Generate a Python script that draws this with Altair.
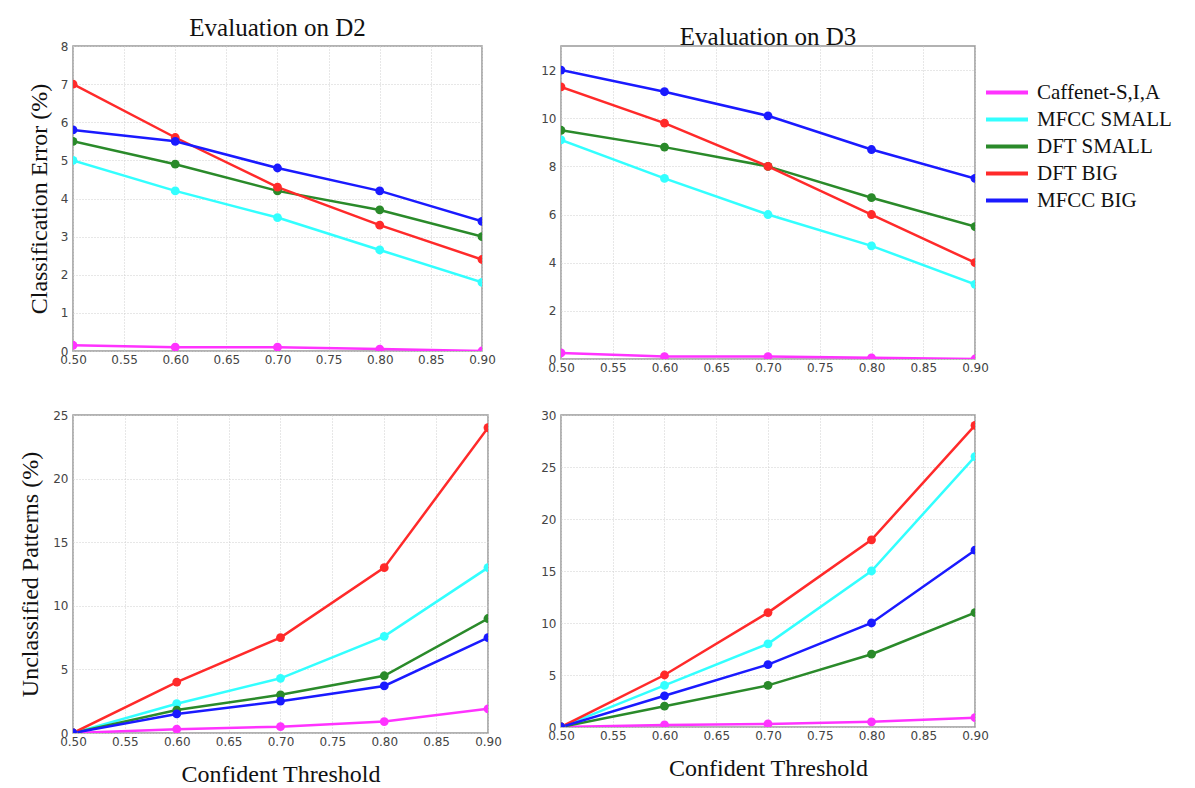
import altair as alt
import pandas as pd

thresholds = [0.50, 0.60, 0.70, 0.80, 0.90]
x_ticks = [0.50, 0.55, 0.60, 0.65, 0.70, 0.75, 0.80, 0.85, 0.90]
series_names = ["Caffenet-S,I,A", "MFCC SMALL", "DFT SMALL", "DFT BIG", "MFCC BIG"]
series_colors = ["#ff33ff", "#33ffff", "#2a8a2a", "#ff2a2a", "#1a1aff"]

# Evaluation on D2 - classification error (%)
d2_err_caffenet = [0.15, 0.10, 0.10, 0.05, 0.0]
d2_err_mfcc_small = [5.0, 4.2, 3.5, 2.65, 1.8]
d2_err_dft_small = [5.5, 4.9, 4.2, 3.7, 3.0]
d2_err_dft_big = [7.0, 5.6, 4.3, 3.3, 2.4]
d2_err_mfcc_big = [5.8, 5.5, 4.8, 4.2, 3.4]

# Evaluation on D3 - classification error (%)
d3_err_caffenet = [0.25, 0.10, 0.10, 0.05, 0.0]
d3_err_mfcc_small = [9.1, 7.5, 6.0, 4.7, 3.1]
d3_err_dft_small = [9.5, 8.8, 8.0, 6.7, 5.5]
d3_err_dft_big = [11.3, 9.8, 8.0, 6.0, 4.0]
d3_err_mfcc_big = [12.0, 11.1, 10.1, 8.7, 7.5]

# D2 - unclassified patterns (%)
d2_unc_caffenet = [0.0, 0.3, 0.5, 0.9, 1.9]
d2_unc_mfcc_small = [0.0, 2.3, 4.3, 7.6, 13.0]
d2_unc_dft_small = [0.0, 1.8, 3.0, 4.5, 9.0]
d2_unc_dft_big = [0.0, 4.0, 7.5, 13.0, 24.0]
d2_unc_mfcc_big = [0.0, 1.5, 2.5, 3.7, 7.5]

# D3 - unclassified patterns (%)
d3_unc_caffenet = [0.0, 0.2, 0.3, 0.5, 0.9]
d3_unc_mfcc_small = [0.0, 4.0, 8.0, 15.0, 26.0]
d3_unc_dft_small = [0.0, 2.0, 4.0, 7.0, 11.0]
d3_unc_dft_big = [0.0, 5.0, 11.0, 18.0, 29.0]
d3_unc_mfcc_big = [0.0, 3.0, 6.0, 10.0, 17.0]

SERIF = "Liberation Serif"
SANS = "DejaVu Sans"


def make_df(*cols):
    rows = []
    for name, vals in zip(series_names, cols):
        for t, v in zip(thresholds, vals):
            rows.append({"t": t, "v": v, "series": name})
    return pd.DataFrame(rows)


legend = alt.Legend(
    orient="none", legendX=911, legendY=34, title=None,
    symbolType="M-1,0H3", symbolStrokeWidth=4, symbolSize=441,
    labelFont=SERIF, labelFontSize=21, labelColor="#111", labelLimit=0,
    rowPadding=4, labelOffset=28,
)


def panel(df, ymax, yticks, w, h, title=None, title_offset=0, ytitle=None, xtitle=None, ytp=9):
    x_axis = alt.Axis(values=x_ticks, format=".2f", labelFlush=False, tickSize=0,
                      labelPadding=3, titlePadding=15,
                      titleFont=SERIF, titleFontSize=24, titleFontWeight="normal", titleColor="#111")
    y_axis = alt.Axis(values=yticks, format="d", labelFlush=False, tickSize=0,
                      labelPadding=5, titlePadding=ytp,
                      titleFont=SERIF, titleFontSize=24, titleFontWeight="normal", titleColor="#111")
    ch = alt.Chart(df).mark_line(
        strokeWidth=2.5, clip=True,
        point=alt.OverlayMarkDef(filled=True, size=78, clip=True, opacity=1),
    ).encode(
        x=alt.X("t:Q", scale=alt.Scale(domain=[0.5, 0.9], nice=False, zero=False),
                axis=x_axis, title=xtitle),
        y=alt.Y("v:Q", scale=alt.Scale(domain=[0, ymax], nice=False),
                axis=y_axis, title=ytitle),
        color=alt.Color("series:N", scale=alt.Scale(domain=series_names, range=series_colors),
                        sort=series_names, legend=legend),
        order=alt.Order("t:Q"),
    )
    props = {"width": w, "height": h}
    if title:
        props["title"] = alt.Title(title, font=SERIF, fontSize=25, fontWeight="normal",
                                   color="#111", offset=title_offset)
    return ch.properties(**props)


tl = panel(make_df(d2_err_caffenet, d2_err_mfcc_small, d2_err_dft_small, d2_err_dft_big, d2_err_mfcc_big),
           8, list(range(0, 9)), 409, 305, title="Evaluation on D2", title_offset=-1,
           ytitle="Classification Error  (%)", ytp=9)
tr = panel(make_df(d3_err_caffenet, d3_err_mfcc_small, d3_err_dft_small, d3_err_dft_big, d3_err_mfcc_big),
           13, list(range(0, 13, 2)), 414, 313, title="Evaluation on D3", title_offset=-4)
bl = panel(make_df(d2_unc_caffenet, d2_unc_mfcc_small, d2_unc_dft_small, d2_unc_dft_big, d2_unc_mfcc_big),
           25, list(range(0, 26, 5)), 415, 318, ytitle="Unclassified Patterns (%)",
           xtitle="Confident Threshold", ytp=10)
br = panel(make_df(d3_unc_caffenet, d3_unc_mfcc_small, d3_unc_dft_small, d3_unc_dft_big, d3_unc_mfcc_big),
           30, list(range(0, 31, 5)), 414, 312, xtitle="Confident Threshold")

chart = alt.concat(
    tl, tr, bl, br, columns=2, bounds="flush", spacing={"row": 56, "column": 73}
).properties(
    padding={"left": 17, "top": 15, "right": 5, "bottom": 0},
    background="white",
).configure_view(
    stroke="#999", strokeWidth=1.5,
).configure_axis(
    labelFont=SANS, labelFontSize=12, labelColor="#444",
    gridColor="#cfcfcf", gridDash=[1, 2], gridWidth=1,
    domain=False,
)

chart.save("out.html", embed_options={"renderer": "svg", "actions": False})
